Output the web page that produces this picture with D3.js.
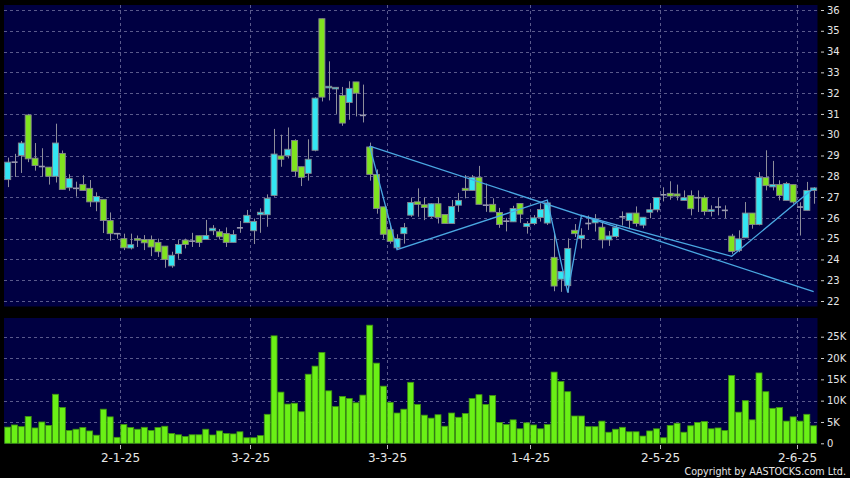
<!DOCTYPE html>
<html>
<head>
<meta charset="utf-8">
<script src="https://cdn.jsdelivr.net/npm/d3@7"></script>
<style>
  html, body { margin: 0; padding: 0; background: #000; }
  svg { display: block; }
</style>
</head>
<body>
<script>
// ---------------- DATA ----------------
const dates = [
  "2024-12-05","2024-12-06","2024-12-09","2024-12-10","2024-12-11","2024-12-12","2024-12-13","2024-12-16","2024-12-17","2024-12-18",
  "2024-12-19","2024-12-20","2024-12-23","2024-12-24","2024-12-27","2024-12-30","2024-12-31",
  "2025-01-02","2025-01-03","2025-01-06","2025-01-07","2025-01-08","2025-01-09","2025-01-10","2025-01-13","2025-01-14","2025-01-15",
  "2025-01-16","2025-01-17","2025-01-20","2025-01-21","2025-01-22","2025-01-23","2025-01-24","2025-01-27","2025-01-28",
  "2025-02-03","2025-02-04","2025-02-05","2025-02-06","2025-02-07","2025-02-10","2025-02-11","2025-02-12","2025-02-13","2025-02-14",
  "2025-02-17","2025-02-18","2025-02-19","2025-02-20","2025-02-21","2025-02-24","2025-02-25","2025-02-26","2025-02-27","2025-02-28",
  "2025-03-03","2025-03-04","2025-03-05","2025-03-06","2025-03-07","2025-03-10","2025-03-11","2025-03-12","2025-03-13","2025-03-14",
  "2025-03-17","2025-03-18","2025-03-19","2025-03-20","2025-03-21","2025-03-24","2025-03-25","2025-03-26","2025-03-27","2025-03-28","2025-03-31",
  "2025-04-01","2025-04-02","2025-04-03","2025-04-07","2025-04-08","2025-04-09","2025-04-10","2025-04-11","2025-04-14","2025-04-15",
  "2025-04-16","2025-04-17","2025-04-22","2025-04-23","2025-04-24","2025-04-25","2025-04-28","2025-04-29","2025-04-30",
  "2025-05-02","2025-05-06","2025-05-07","2025-05-08","2025-05-09","2025-05-12","2025-05-13","2025-05-14","2025-05-15","2025-05-16",
  "2025-05-19","2025-05-20","2025-05-21","2025-05-22","2025-05-23","2025-05-26","2025-05-27","2025-05-28","2025-05-29","2025-05-30",
  "2025-06-02","2025-06-03","2025-06-04"
];

const open = [
  27.84,28.68,29.0,30.95,28.87,28.47,28.44,28.0,29.1,27.45,
  27.42,27.61,27.42,26.77,26.89,25.87,25.24,25.0,24.55,25.0,
  24.96,24.96,24.82,24.64,23.69,24.28,24.93,24.88,25.14,24.96,
  25.38,25.33,25.25,24.82,25.52,25.77,25.38,26.15,26.15,27.08,
  28.98,28.99,29.72,28.46,28.14,29.25,35.58,32.26,32.21,31.89,
  31.55,32.54,30.93,29.41,28.09,26.53,25.43,24.56,25.24,26.13,
  26.77,26.63,26.06,26.68,26.16,25.73,26.61,27.42,27.32,27.95,
  26.61,26.65,26.26,25.84,25.81,26.69,25.58,25.73,26.02,25.75,
  24.1,23.05,22.74,25.4,25.0,25.73,25.76,25.55,24.94,25.1,
  26.05,25.87,26.23,25.65,26.27,26.39,27.11,27.18,27.15,26.84,
  27.07,26.97,26.97,26.31,26.52,26.36,25.12,24.43,25.04,26.23,
  25.68,27.94,27.49,27.6,26.84,27.6,26.52,26.36,27.32
];
const high = [
  28.9,29.08,29.7,31.0,29.6,29.35,28.44,30.53,29.24,28.1,
  27.74,28.05,27.82,27.23,26.89,26.26,25.26,25.24,25.24,25.15,
  25.17,25.15,25.0,24.64,24.37,24.93,25.0,25.28,25.14,25.9,
  25.65,25.46,25.54,25.41,25.85,26.38,25.97,26.46,27.13,30.28,
  30.0,30.35,29.78,28.46,29.78,31.8,35.58,33.53,32.28,32.3,
  32.57,32.54,32.41,29.62,28.33,26.53,25.72,25.21,25.75,26.98,
  27.42,26.98,26.7,26.98,26.16,26.86,27.2,28.06,28.06,28.5,
  27.65,26.94,26.48,26.0,26.58,26.69,25.84,26.13,26.7,26.76,
  25.32,23.42,25.01,25.7,25.5,26.11,26.18,25.82,25.37,25.66,
  26.31,26.23,26.55,26.03,26.71,26.98,27.47,27.76,27.6,27.32,
  27.32,27.32,27.08,26.6,26.97,26.6,25.23,25.4,26.76,26.23,
  28.2,29.25,28.74,27.81,27.73,27.6,26.75,27.73,27.48
];
const low = [
  27.48,27.97,28.16,28.68,28.27,27.98,27.6,27.7,27.37,27.3,
  27.02,27.32,26.53,26.32,25.27,24.9,25.0,24.45,24.48,24.6,
  24.45,24.16,24.12,23.6,23.6,24.03,24.53,24.6,24.6,24.96,
  25.17,24.96,24.6,24.82,25.28,25.77,24.74,25.28,25.57,27.02,
  28.46,28.86,27.98,27.53,27.79,29.2,31.6,31.65,31.0,30.43,
  30.72,30.88,30.59,27.79,26.2,25.0,24.76,24.47,24.76,26.05,
  26.05,25.89,26.0,25.73,25.73,25.73,26.29,26.94,27.32,26.65,
  26.29,26.29,25.52,25.35,25.81,25.76,25.24,25.65,25.82,25.66,
  22.47,22.44,22.4,25.08,24.53,25.42,25.34,24.53,24.65,25.02,
  25.63,25.5,25.58,25.5,25.98,26.27,26.79,26.87,26.84,26.84,
  26.12,26.28,26.12,26.07,26.12,25.99,24.27,24.35,25.04,25.48,
  25.64,27.32,27.32,26.84,26.84,26.68,25.15,26.36,26.68
];
const close = [
  28.68,28.68,29.6,28.84,28.52,28.47,28.0,29.6,27.37,27.9,
  27.42,27.32,26.77,27.03,25.87,25.24,25.24,24.56,24.71,24.95,
  24.8,24.6,24.37,24.0,24.2,24.72,24.72,24.88,24.82,25.15,
  25.5,25.09,24.82,25.2,25.52,26.12,25.83,26.27,26.94,29.07,
  28.82,29.3,28.24,27.95,28.82,31.76,31.81,32.33,32.28,30.56,
  32.23,32.0,30.93,28.09,26.45,25.21,24.87,25.0,25.53,26.74,
  26.65,26.5,26.68,26.02,25.73,26.55,26.84,27.32,27.95,26.65,
  26.61,26.29,25.68,25.84,26.45,26.18,25.73,26.0,26.4,26.72,
  22.72,23.42,24.53,25.24,25.16,25.73,25.95,24.94,25.13,25.53,
  26.05,26.23,25.73,26.03,26.39,26.98,27.11,27.05,27.05,26.97,
  26.44,26.97,26.31,26.39,26.52,26.36,24.38,24.99,26.23,25.68,
  27.94,27.55,27.6,27.08,27.65,26.76,26.52,27.32,27.44
];
const volume = [
  3800,4300,3900,6300,3600,5000,4200,11500,8400,3000,
  3300,3700,2900,1900,8000,6200,1400,4400,3700,3300,
  3750,3000,3700,4000,2300,2000,1600,2000,2000,3300,
  1950,2900,2300,2200,2700,1300,1300,1800,6800,25200,
  12000,9200,9400,7400,16200,18100,21300,12300,8600,11000,
  10500,9500,11300,27700,18800,13400,9600,7100,8000,14300,
  9100,6600,5900,6700,4000,7100,6100,7000,10500,11400,
  9100,11200,4900,4400,5500,3400,4800,4300,3400,4400,
  16700,14500,12100,6400,6400,3900,3900,5200,2600,3300,
  3750,2700,2700,1700,2900,3400,1300,4200,4700,2600,
  4100,4900,5100,3400,3600,3000,15900,7300,10000,5500,
  16500,12100,8200,8400,5200,6200,5200,6800,4100
];

// trend lines: [date, price]
const trendPath = [
  ["2025-02-26", 29.45], ["2025-03-04", 24.47], ["2025-04-03", 26.85],
  ["2025-04-09", 22.4], ["2025-04-11", 26.12], ["2025-05-19", 24.15], ["2025-06-04", 27.42]
];
const trendLine2 = [["2025-02-26", 29.45], ["2025-06-04", 22.45]];

const monthTickDates = ["2025-01-02","2025-02-03","2025-03-03","2025-04-01","2025-05-02","2025-06-02"];
const monthTickLabels = ["2-1-25","3-2-25","3-3-25","1-4-25","2-5-25","2-6-25"];
const priceTicks = [22,23,24,25,26,27,28,29,30,31,32,33,34,35,36];
const volTicks = [0,5000,10000,15000,20000,25000];
const volTickLabels = ["0","5K","10K","15K","20K","25K"];

// ---------------- LAYOUT ----------------
const W = 850, H = 478;
const plotL = 4, plotR = 817.5;
const pTop = 5, pBot = 306.5;
const vTop = 318, vBot = 444;

const bars = dates.map((d, i) => ({d, o: open[i], h: high[i], l: low[i], c: close[i], v: volume[i]}));

const x = d3.scaleBand().domain(dates).range([4.29, 817.06]).paddingInner(0.12).paddingOuter(0.06);
const yP = d3.scaleLinear().domain([22, 36]).range([301, 10]);
const yV = d3.scaleLinear().domain([0, 25000]).range([443.3, 336.7]);
const cx = d => x(d) + x.bandwidth() / 2;
const boundary = d => x(d) - (x.step() - x.bandwidth()) / 2;

const svg = d3.select("body").append("svg").attr("width", W).attr("height", H);
svg.append("rect").attr("width", W).attr("height", H).attr("fill", "#000");

const navy = "#000042";
svg.append("rect").attr("x", plotL).attr("y", pTop).attr("width", plotR - plotL).attr("height", pBot - pTop).attr("fill", navy);
svg.append("rect").attr("x", plotL).attr("y", vTop).attr("width", plotR - plotL).attr("height", vBot - vTop).attr("fill", navy);

const gridColor = "#5a5a8c";
const grid = svg.append("g").attr("stroke", gridColor).attr("stroke-width", 1).attr("stroke-dasharray", "3,3").attr("fill", "none");
grid.selectAll(".hp").data(priceTicks).join("line")
  .attr("x1", plotL).attr("x2", plotR)
  .attr("y1", d => Math.round(yP(d)) + 0.5).attr("y2", d => Math.round(yP(d)) + 0.5);
grid.selectAll(".hv").data(volTicks.filter(v => v > 0)).join("line")
  .attr("x1", plotL).attr("x2", plotR)
  .attr("y1", d => Math.round(yV(d)) + 0.5).attr("y2", d => Math.round(yV(d)) + 0.5);
monthTickDates.forEach(d => {
  const gx = Math.round(boundary(d)) + 0.5;
  grid.append("line").attr("x1", gx).attr("x2", gx).attr("y1", pTop).attr("y2", pBot);
  grid.append("line").attr("x1", gx).attr("x2", gx).attr("y1", vTop).attr("y2", vBot);
});

// ---------------- CANDLES ----------------
const upCol = "#33e6f2", downCol = "#80e31f", dojiCol = "#9a9ab0";
const candles = svg.append("g");
const cg = candles.selectAll("g").data(bars).join("g");
cg.append("line")
  .attr("x1", d => Math.round(cx(d.d)) + 0.5).attr("x2", d => Math.round(cx(d.d)) + 0.5)
  .attr("y1", d => yP(d.h)).attr("y2", d => yP(d.l))
  .attr("stroke", "#8e8e9a").attr("stroke-width", 1);
cg.append("rect")
  .attr("x", d => x(d.d))
  .attr("width", x.bandwidth())
  .attr("y", d => d.o === d.c ? yP(d.o) - 0.8 : yP(Math.max(d.o, d.c)))
  .attr("height", d => d.o === d.c ? 1.6 : Math.max(1.6, Math.abs(yP(d.o) - yP(d.c))))
  .attr("fill", d => d.c > d.o ? upCol : (d.c < d.o ? downCol : dojiCol))
  .attr("stroke", d => d.o === d.c ? "none" : "#86868e")
  .attr("stroke-width", 0.9);

// ---------------- TREND LINES ----------------
const lineGen = d3.line().x(p => cx(p[0])).y(p => yP(p[1]));
svg.append("path").attr("d", lineGen(trendPath)).attr("fill", "none").attr("stroke", "#4aa8e2").attr("stroke-width", 1.3);
svg.append("path").attr("d", lineGen(trendLine2)).attr("fill", "none").attr("stroke", "#4aa8e2").attr("stroke-width", 1.3);

// ---------------- VOLUME ----------------
svg.append("g").selectAll("rect").data(bars).join("rect")
  .attr("x", d => x(d.d))
  .attr("width", x.bandwidth())
  .attr("y", d => yV(d.v))
  .attr("height", d => yV(0) - yV(d.v))
  .attr("fill", "#6af016")
  .attr("stroke", "#3f9410")
  .attr("stroke-width", 0.8);

// ---------------- AXES ----------------
const font = "DejaVu Sans";
const txtCol = "#e6e6e6";

const pAxis = svg.append("g").attr("transform", "translate(821,0)")
  .call(d3.axisRight(yP).tickValues(priceTicks).tickSize(3).tickPadding(3).tickFormat(d3.format("d")));
const vAxis = svg.append("g").attr("transform", "translate(821,0)")
  .call(d3.axisRight(yV).tickValues(volTicks).tickSize(3).tickPadding(3).tickFormat((d, i) => volTickLabels[i]));
[pAxis, vAxis].forEach(a => {
  a.select(".domain").remove();
  a.selectAll(".tick line").attr("stroke", "#cfcfcf");
  a.selectAll("text").attr("fill", txtCol).attr("font-family", font).attr("font-size", 10);
});

const bAxis = svg.append("g");
monthTickDates.forEach((d, i) => {
  const bx = Math.round(boundary(d)) + 0.5;
  bAxis.append("line").attr("x1", bx).attr("x2", bx).attr("y1", 445).attr("y2", 449).attr("stroke", "#bbb");
  bAxis.append("text").attr("x", bx).attr("y", 462).attr("text-anchor", "middle")
    .attr("fill", txtCol).attr("font-family", font).attr("font-size", 12).text(monthTickLabels[i]);
});

svg.append("text").attr("x", 846).attr("y", 474.5).attr("text-anchor", "end")
  .attr("fill", txtCol).attr("font-family", font).attr("font-size", 9.6)
  .text("Copyright by AASTOCKS.com Ltd.");
</script>
</body>
</html>
